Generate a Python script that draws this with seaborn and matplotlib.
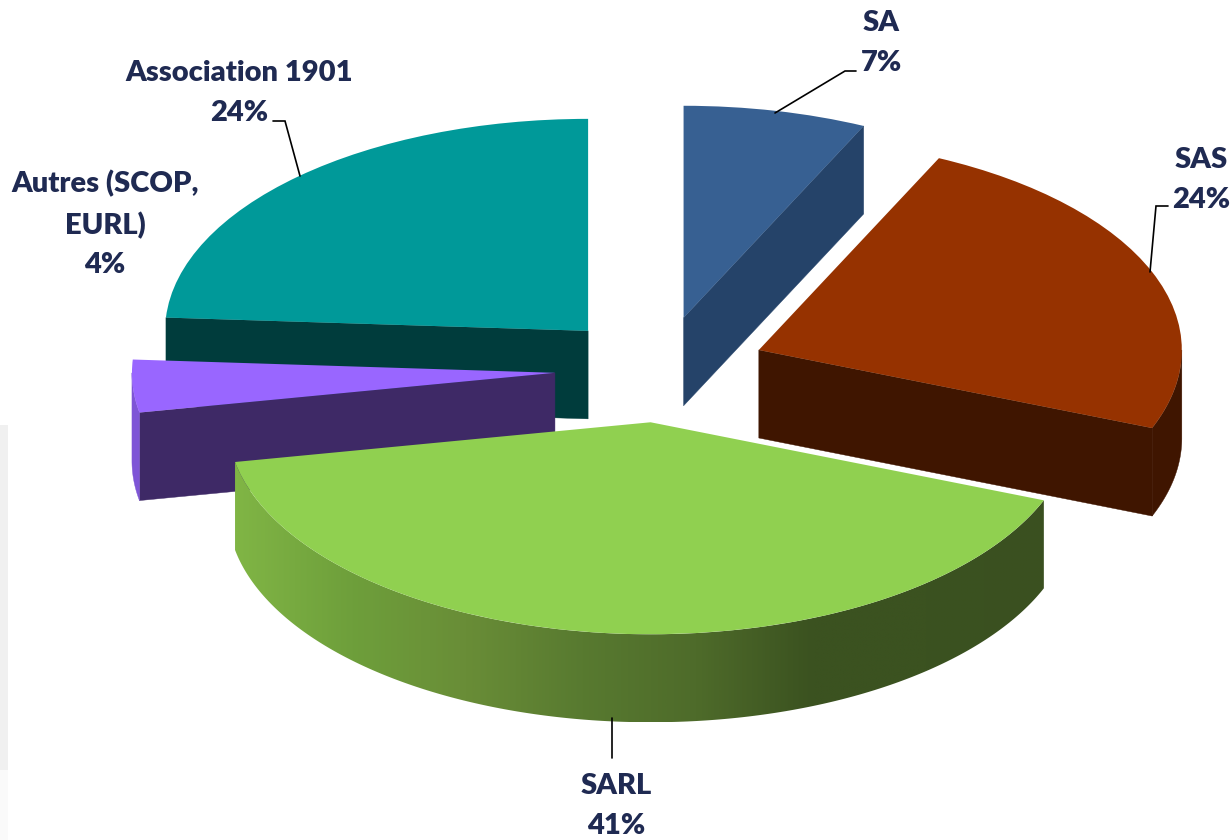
from __future__ import annotations

import matplotlib

matplotlib.use("Agg")

import matplotlib.pyplot as plt
import numpy as np
import seaborn as sns
from matplotlib.patches import Polygon, Rectangle
from matplotlib.transforms import Affine2D

# data, clockwise from 12 o'clock
categories = ["SA", "SAS", "SARL", "Autres (SCOP,\nEURL)", "Association 1901"]
shares = [7, 24, 41, 4, 24]

# styles
top_colors = ["#376092", "#963200", "#90D050", "#9966FF", "#009999"]
wall_colors = ["#254369", "#3F1500", "#3A5020", "#3E2966", "#003C3C"]
rim_colors = ["#254369", "#3F1500", None, "#7E55D6", "#003C3C"]
sarl_rim_stops = ["#80B545", "#6E9F3B", "#698D37", "#587A30", "#4E6B2A", "#3B5220", "#3B5220", "#3A5020"]
draw_order = [0, 4, 1, 3, 2]
text_color = "#1F2A52"

# layout, in reference pixels
WIDTH, HEIGHT = 1232, 840
CENTER_X, CENTER_Y = 660.5, 369.5
RADIUS_X, RADIUS_Y = 423.0, 212.0
DEPTH = 88.0 / RADIUS_Y
EXPLODE = 0.25
label_anchors = [(881, 43), (1201, 180), (616, 806), (105, 224), (239, 93)]
leaders = [
    [(775, 113), (845, 71), (856, 71)],
    [(1150, 272), (1156, 206), (1168, 206)],
    [(612, 718), (612, 758)],
    None,
    [(300, 176), (285, 121), (273, 121)],
]

sns.set_theme(style="white")
plt.rcParams["font.family"] = ["Lato", "DejaVu Sans"]

fig = plt.figure(figsize=(WIDTH / 100, HEIGHT / 100), dpi=100)
ax = fig.add_axes([0, 0, 1, 1])
pixels = Affine2D().scale(1, -1).translate(0, HEIGHT)

wedges, _ = ax.pie(
    shares,
    colors=sns.color_palette(top_colors),
    explode=[EXPLODE] * len(shares),
    startangle=90,
    counterclock=False,
    wedgeprops={"linewidth": 0},
)

rim_cmap = sns.blend_palette(sarl_rim_stops, as_cmap=True)


def add_radial_wall(wedge, angle, color, zorder):
    cx, cy = wedge.center
    x = cx + wedge.r * np.cos(np.radians(angle))
    y = cy + wedge.r * np.sin(np.radians(angle))
    corners = [(cx, cy), (x, y), (x, y - DEPTH), (cx, cy - DEPTH)]
    ax.add_patch(Polygon(corners, closed=True, facecolor=color, edgecolor=color, linewidth=0.3, zorder=zorder))


def add_rim(wedge, color, zorder):
    # only the part of the outer wall that faces the viewer
    cx, cy = wedge.center
    start, end = wedge.theta1 % 360, wedge.theta2 % 360
    if end <= start:
        end += 360
    low, high = max(start, 180), min(end, 360)
    if high <= low:
        return
    angles = np.radians(np.linspace(low, high, 241))
    xs = cx + wedge.r * np.cos(angles)
    ys = cy + wedge.r * np.sin(angles)
    corners = np.r_[np.c_[xs, ys], np.c_[xs, ys - DEPTH][::-1]]
    if color is not None:
        ax.add_patch(Polygon(corners, closed=True, facecolor=color, edgecolor=color, linewidth=0.3, zorder=zorder))
        return
    # horizontal gradient across the whole wall width, clipped to the wall
    shape = Polygon(corners, closed=True, facecolor="none", linewidth=0, transform=ax.transData)
    ax.add_patch(shape)
    image = ax.imshow(
        np.linspace(0, 1, 400)[None, :],
        cmap=rim_cmap,
        extent=(xs.min(), xs.max(), ys.min() - DEPTH, ys.max()),
        aspect="auto",
        interpolation="bilinear",
        zorder=zorder,
    )
    image.set_clip_path(shape)


for layer, idx in enumerate(draw_order):
    wedge = wedges[idx]
    base = 2 + layer * 3
    if np.cos(np.radians(wedge.theta1)) > 1e-6:
        add_radial_wall(wedge, wedge.theta1, wall_colors[idx], base)
    if np.cos(np.radians(wedge.theta2)) < -1e-6:
        add_radial_wall(wedge, wedge.theta2, wall_colors[idx], base)
    add_rim(wedge, rim_colors[idx], base + 1)
    wedge.set_zorder(base + 2)

ax.set_aspect("auto")
ax.set_xlim(-CENTER_X / RADIUS_X, (WIDTH - CENTER_X) / RADIUS_X)
ax.set_ylim((CENTER_Y - HEIGHT) / RADIUS_Y, CENTER_Y / RADIUS_Y)

# faint strip left over from the source slide
ax.add_patch(Rectangle((0, 425), 8, 345, transform=pixels, facecolor="#F0F0F0", linewidth=0, zorder=0))
ax.add_patch(Rectangle((0, 770), 8, 70, transform=pixels, facecolor="#FAFAFA", linewidth=0, zorder=0))

for name, share, anchor, leader in zip(categories, shares, label_anchors, leaders):
    ax.text(
        anchor[0], anchor[1], f"{name}\n{share}%",
        transform=pixels, ha="center", va="center", ma="center",
        fontsize=21, fontweight="heavy", color=text_color, linespacing=1.62, clip_on=False, zorder=40,
    )
    if leader:
        px, py = zip(*leader)
        ax.plot(px, py, transform=pixels, color="black", linewidth=1.2, solid_joinstyle="miter", zorder=39)

fig.savefig("out.png", dpi=100, facecolor="white")
